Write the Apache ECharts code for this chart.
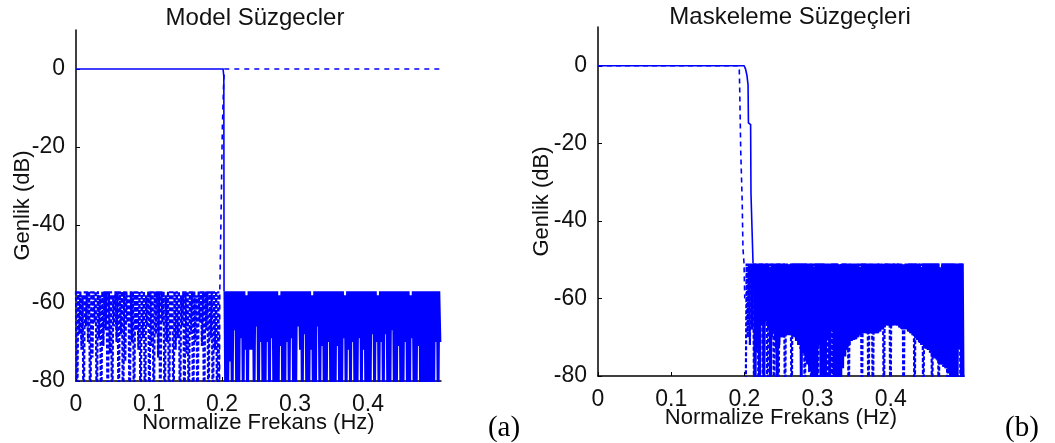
<!DOCTYPE html>
<html><head><meta charset="utf-8">
<script src="https://cdn.jsdelivr.net/npm/echarts@6/dist/echarts.min.js"></script>
<style>html,body{margin:0;padding:0;background:#fff}#c{width:1055px;height:443px}</style>
</head><body><div id="c"></div>
<script>
// ---- texts / ticks ----
const xTicks = [0, 0.1, 0.2, 0.3, 0.4];
const yTicks = [-80, -60, -40, -20, 0];
const titles = ['Model Süzgecler', 'Maskeleme Süzgeçleri'];
const panelTags = ['(a)', '(b)'];
const xName = 'Normalize Frekans (Hz)';
const yName = 'Genlik (dB)';
const sampleStep = 0.0015; // frequency grid spacing of the stopband samples

// ---- panel (a): model filters ----
const aSolidPass = [[0,0],[0.2015,0],[0.2025,-2],[0.2028,-57]];
const aSolidStopStart = 0.2035;
const aSolidStop = [
-57,-95,-57,-90,-57,-75,-57,-95,-57,-67,-57,-92,-57,-96,-57,-69,-57,-94,-57,-72,
-58,-97,-57,-72,-57,-72,-57,-93,-57,-66,-57,-95,-57,-70,-57,-92,-57,-96,-57,-70,
-57,-94,-57,-69,-57,-97,-57,-91,-57,-95,-58,-71,-57,-93,-57,-96,-57,-70,-57,-92,
-57,-69,-57,-95,-57,-94,-57,-66,-57,-72,-57,-96,-57,-68,-57,-93,-57,-95,-57,-72,
-58,-92,-57,-97,-57,-66,-57,-94,-57,-71,-57,-95,-57,-92,-57,-70,-57,-96,-57,-93,
-57,-95,-57,-71,-57,-94,-57,-92,-57,-69,-58,-96,-57,-72,-57,-93,-57,-70,-57,-95,
-57,-94,-57,-69,-57,-92,-57,-72,-57,-96,-57,-93,-57,-95,-57,-68,-57,-94,-57,-70,
-58,-92,-57,-70,-57,-96,-57,-68,-57,-93,-57,-95,-57,-67,-57,-94,-57,-92,-57,-71,
-57,-96,-57,-93,-57,-70,-57,-95,-57,-94,-58,-69,-57,-92,-57,-96,-57,-71,-57,-93,
-57,-95,-57,-94,-57,-92,-57,-96,-57,-93,-57,-95,-57,-70,-57,-94,-57,-70
];
const aDashStopStart = 0;
const aDashStop = [
-57,-95,-57,-68,-57,-72,-58,-95,-57,-66,-57,-70,-57,-95,-57,-74,-57,-65,-57,-95,
-57,-69,-58,-95,-57,-71,-57,-67,-57,-95,-57,-73,-57,-95,-58,-66,-57,-70,-57,-95,
-57,-68,-57,-95,-57,-75,-57,-65,-58,-95,-57,-70,-57,-95,-57,-67,-57,-72,-57,-95,
-57,-69,-57,-95,-58,-66,-57,-95,-57,-71,-57,-95,-57,-68,-57,-74,-57,-95,-57,-65,
-57,-95,-58,-70,-57,-95,-57,-67,-57,-95,-57,-72,-57,-69,-57,-95,-58,-66,-57,-95,
-57,-73,-57,-95,-57,-68,-57,-95,-57,-70,-58,-95,-57,-65,-57,-71,-57,-95,-57,-67,
-57,-95,-57,-69,-57,-95,-57,-72,-57,-95,-57,-95
];
const aDashPass = [[0.1965,-95],[0.197,-57],[0.1985,-40],[0.2005,-15],[0.2025,-2],[0.204,0],[0.5,0]];

// ---- panel (b): masking filters ----
const bSolidPass = [[0,0],[0.1995,0],[0.2015,-0.8],[0.2035,-2.5],[0.205,-5],[0.2055,-14.7],[0.2085,-15.2],[0.209,-33],[0.2115,-33.5],[0.2118,-51]];
const bSolidStopStart = 0.2132;
const bSolidStop = [
-51,-95,-51,-73,-51,-95,-51,-66,-51,-95,-51,-66,-51,-68,-52,-95,-51,-69,-51,-70,
-51,-95,-51,-72,-51,-70,-51,-70,-51,-69.5,-51,-69.5,-52,-69.5,-51,-69.5,-51,-70,-51,-71,
-51,-72,-51,-95,-51,-74,-51,-75.5,-51,-77,-51,-78.5,-51,-95,-52,-95,-51,-95,-51,-72,
-51,-95,-51,-95,-51,-95,-51,-70.7,-51,-95,-51,-68.2,-51,-95,-51,-70.7,-51,-95,-52,-95,
-51,-78,-51,-75,-51,-73.3,-51,-72,-51,-71,-51,-70.7,-51,-70.5,-51,-70,-52,-69.5,-51,-69,
-51,-69,-51,-69,-51,-69,-51,-69,-51,-69,-51,-69,-51,-69,-51,-68.5,-51,-68,-52,-67.5,
-51,-67,-51,-67,-51,-67,-51,-67,-51,-67,-51,-67,-51,-67.5,-51,-68,-52,-68,-51,-68,
-51,-68.5,-51,-69,-51,-69.5,-51,-70,-51,-70.7,-51,-71.5,-52,-72,-51,-72.5,-51,-73,-51,-73.3,
-51,-74,-51,-75,-51,-75.5,-51,-76,-51,-76.5,-52,-77,-51,-77.6,-51,-78,-51,-79,-51,-95,
-51,-70.7,-51,-95,-51,-95,-51,-73,-51,-95,-51,-95
];
const bDashPass = [[0,0],[0.1915,0],[0.193,-1],[0.1935,-5],[0.195,-22],[0.197,-35],[0.198,-47],[0.1995,-51],[0.2005,-60]];
const bDashStopStart = 0.2015;
const bDashStop = [
-95,-51,-70,-51,-72,-51,-68,-51,-95,-51,-74,-51,-95,-51,-67,-51,-95,-52,-66,-51,
-95,-51,-69,-51,-70,-51,-95,-51,-73,-51,-95,-51,-70,-51,-70,-51,-95,-52,-69.5,-51,
-69.5,-51,-95,-51,-70,-51,-71,-51,-72,-51,-73,-51,-74,-51,-95,-51,-77,-52,-79,-51,
-95,-51,-95,-51,-95,-51,-95,-51,-68,-51,-95,-51,-95,-51,-95,-51,-95,-52,-95,-51,
-95,-51,-95,-51,-95,-51,-95,-51,-77,-51,-75,-51,-73,-51,-95,-51,-71,-52,-70.7,-51,
-70.5,-51,-70,-51,-69.5,-51,-95,-51,-69,-51,-69,-51,-95,-51,-69,-51,-95,-52,-69,-51,
-69,-51,-68.5,-51,-68,-51,-95,-51,-67,-51,-67,-51,-95,-51,-67,-51,-67,-52,-67,-51,
-67.5,-51,-68,-51,-95,-51,-68,-51,-68.5,-51,-69,-51,-69.5,-51,-95,-51,-70.7,-52,-71.5,-51,
-72,-51,-95,-51,-73,-51,-73.3,-51,-74,-51,-95,-51,-75.5,-51,-76,-51,-95,-52,-77,-51,
-77.6,-51,-78,-51,-95,-51,-95,-51,-95,-51,-95,-51,-95,-51,-73,-51,-95,-51
];

// ---- build ----
function onGrid(start, levels) { return levels.map((v, i) => [start + i * sampleStep, v]); }
const BLUE = '#0000ff';
const FONT = '"Liberation Sans", Arial, sans-serif';
function lineSeries(idx, data, width, dash) {
  return { type: 'line', xAxisIndex: idx, yAxisIndex: idx, data: data, showSymbol: false, symbol: 'none',
    clip: true, silent: true, animation: false,
    lineStyle: { color: BLUE, width: width, type: dash ? dash : 'solid', cap: 'butt', join: 'miter' } };
}
const grids = [
  { left: 76, top: 30, width: 365, height: 351 },
  { left: 598, top: 27, width: 366, height: 349 }
];
const yNameGap = [42, 45];
function xAxisFor(i) {
  return { type: 'value', gridIndex: i, min: 0, max: 0.5,
    axisLine: { show: true, onZero: false, lineStyle: { color: '#000', width: 1.5 } },
    axisTick: { show: true, inside: true, length: 4, customValues: xTicks, lineStyle: { color: '#000' } },
    axisLabel: { customValues: xTicks, fontSize: 23, color: '#111', margin: 12, fontFamily: FONT },
    splitLine: { show: false },
    name: xName, nameLocation: 'middle', nameGap: 31, nameMoveOverlap: false,
    nameTextStyle: { fontSize: 22, color: '#111', fontFamily: FONT } };
}
function yAxisFor(i) {
  return { type: 'value', gridIndex: i, min: -80, max: 10,
    axisLine: { show: true, onZero: false, lineStyle: { color: '#000', width: 1.5 } },
    axisTick: { show: true, inside: true, length: 4, customValues: yTicks, lineStyle: { color: '#000' } },
    axisLabel: { customValues: yTicks, fontSize: 23, color: '#111', margin: 11, fontFamily: FONT },
    splitLine: { show: false },
    name: yName, nameLocation: 'middle', nameGap: yNameGap[i], nameMoveOverlap: false,
    nameTextStyle: { fontSize: 22, color: '#111', fontFamily: FONT } };
}
const chart = echarts.init(document.getElementById('c'), null, { renderer: 'canvas' });
chart.setOption({
  animation: false,
  backgroundColor: '#fff',
  grid: grids,
  xAxis: [xAxisFor(0), xAxisFor(1)],
  yAxis: [yAxisFor(0), yAxisFor(1)],
  series: [
    lineSeries(0, onGrid(aDashStopStart, aDashStop), 2.2, [4, 2]),
    lineSeries(0, aDashPass, 1.6, [5, 5]),
    lineSeries(0, onGrid(aSolidStopStart, aSolidStop), 2.2),
    lineSeries(0, aSolidPass, 1.6),
    lineSeries(1, onGrid(bDashStopStart, bDashStop), 2.2, [4, 2]),
    lineSeries(1, bDashPass, 1.6, [5, 4]),
    lineSeries(1, onGrid(bSolidStopStart, bSolidStop), 2.2),
    lineSeries(1, bSolidPass, 1.6)
  ],
  graphic: [
    { type: 'text', x: 255, y: 18, style: { text: titles[0], font: '24px ' + FONT, fill: '#111', textAlign: 'center', textVerticalAlign: 'middle' } },
    { type: 'text', x: 790, y: 17, style: { text: titles[1], font: '24px ' + FONT, fill: '#111', textAlign: 'center', textVerticalAlign: 'middle' } },
    { type: 'text', x: 504, y: 428, style: { text: panelTags[0], font: '29px "Liberation Serif", "Times New Roman", serif', fill: '#000', textAlign: 'center', textVerticalAlign: 'middle' } },
    { type: 'text', x: 1022, y: 428, style: { text: panelTags[1], font: '29px "Liberation Serif", "Times New Roman", serif', fill: '#000', textAlign: 'center', textVerticalAlign: 'middle' } }
  ]
});
</script>
</body></html>
